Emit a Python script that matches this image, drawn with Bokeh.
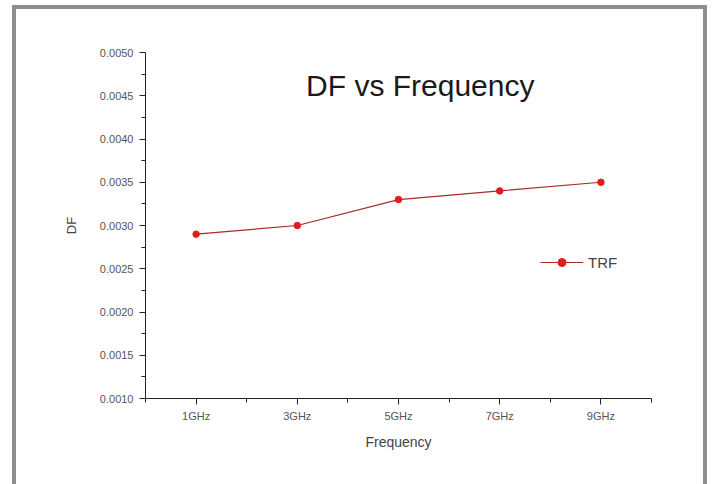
from bokeh.plotting import figure
from bokeh.models import FixedTicker, NumeralTickFormatter, Range1d, Label, Legend, LegendItem
from bokeh.embed import file_html
from bokeh.resources import INLINE

# data
freq_ghz = [1, 3, 5, 7, 9]
freq_labels = ["1GHz", "3GHz", "5GHz", "7GHz", "9GHz"]
df_values = [0.0029, 0.0030, 0.0033, 0.0034, 0.0035]
series_name = "TRF"
y_ticks = [0.0010, 0.0015, 0.0020, 0.0025, 0.0030, 0.0035, 0.0040, 0.0045, 0.0050]

FONT = "Liberation Sans"

p = figure(width=713, height=484, output_backend="svg", toolbar_location=None,
           x_range=Range1d(0, 10), y_range=Range1d(0.0010, 0.0050),
           min_border_left=145, min_border_right=62, min_border_top=52, min_border_bottom=86)
p.outline_line_color = None
p.border_fill_color = None
p.background_fill_color = None
p.xgrid.visible = False
p.ygrid.visible = False
# outer gray frame of the picture, painted behind the transparent canvas
g = "linear-gradient(#8e8e8e,#8e8e8e)"
p.styles = {
    "background": (f"{g} 12px 5px / 4px 479px no-repeat, "
                   f"{g} 12px 5px / 695px 4px no-repeat, "
                   f"{g} 703px 5px / 4px 479px no-repeat, white"),
}

line = p.line(freq_ghz, df_values, line_color="#a82a2a", line_width=1.2)
pts = p.scatter(freq_ghz, df_values, size=6.5, fill_color="#e41a1c", line_color="#e41a1c")

# axes
p.xaxis.ticker = FixedTicker(ticks=freq_ghz, minor_ticks=[0, 2, 4, 6, 8, 10])
p.xaxis.major_label_overrides = {f: l for f, l in zip(freq_ghz, freq_labels)}
p.yaxis.ticker = FixedTicker(ticks=y_ticks,
                             minor_ticks=[0.00125, 0.00175, 0.00225, 0.00275, 0.00325, 0.00375, 0.00425, 0.00475])
p.yaxis.formatter = NumeralTickFormatter(format="0.0000")
for ax in (p.xaxis[0], p.yaxis[0]):
    ax.axis_line_color = "#222222"
    ax.major_tick_line_color = "#222222"
    ax.minor_tick_line_color = "#222222"
    ax.major_tick_in = 0
    ax.major_tick_out = 6
    ax.minor_tick_in = 0
    ax.minor_tick_out = 4
    ax.major_label_text_font = FONT
    ax.major_label_text_font_size = "11px"
    ax.major_label_text_color = "#555555"
    ax.axis_label_text_font = FONT
    ax.axis_label_text_font_style = "normal"
    ax.axis_label_text_color = "#444444"
p.xaxis.axis_label = "Frequency"
p.xaxis.axis_label_text_font_size = "14px"
p.xaxis.major_label_standoff = 5
p.xaxis.axis_label_standoff = 9
p.yaxis.axis_label = "DF"
p.yaxis.axis_label_text_font_size = "13px"
p.yaxis.major_label_standoff = 6
p.yaxis.axis_label_standoff = 18

# title inside plot
title = Label(x=5.43, y=0.00462, text="DF vs Frequency", text_font=FONT, text_font_size="30px",
              text_align="center", text_baseline="middle", text_color="#1a1a1a")
p.add_layout(title)

legend = Legend(items=[LegendItem(label=series_name, renderers=[line, pts])],
                location=(395, 126), border_line_color=None, background_fill_alpha=0,
                glyph_width=43, glyph_height=20, label_standoff=5, padding=0, margin=0,
                label_text_font=FONT, label_text_font_size="15px", label_text_color="#444444")
p.add_layout(legend)

open("out.html", "w").write(file_html(p, INLINE))
